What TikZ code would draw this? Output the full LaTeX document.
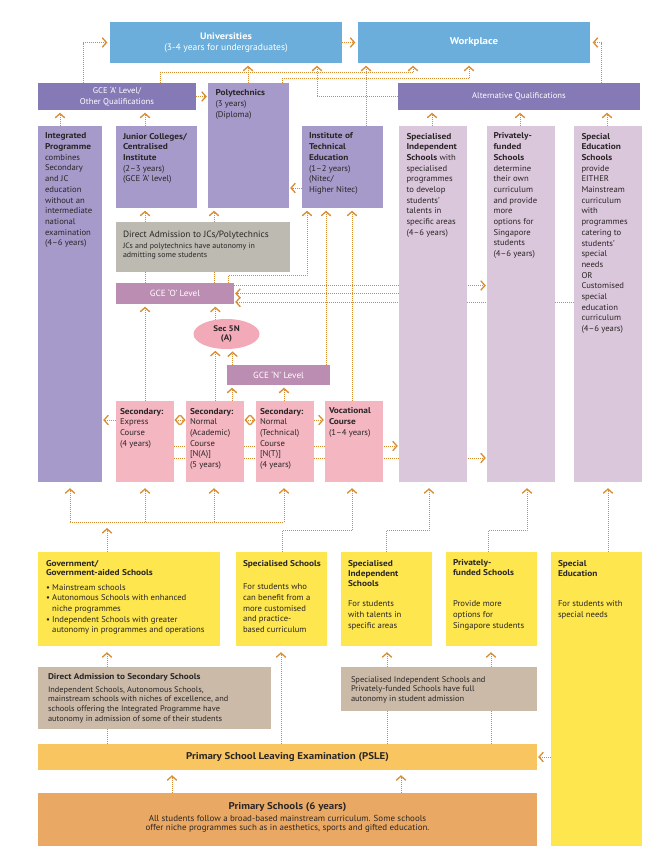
\documentclass[tikz,border=0pt]{standalone}
\usepackage{fontspec}
\setmainfont{PT Sans}[FakeStretch=1.03, BoldFeatures={FakeStretch=1.11}]
\usetikzlibrary{arrows.meta,fit,shapes.geometric}
\definecolor{cblue}{HTML}{6BAEDB}
\definecolor{cdpur}{HTML}{857AB5}
\definecolor{cmpur}{HTML}{A59ACA}
\definecolor{clil}{HTML}{DBC7DB}
\definecolor{cgray}{HTML}{BDBAB1}
\definecolor{cmauve}{HTML}{BC8DB2}
\definecolor{cpink}{HTML}{F4B6C1}
\definecolor{cell}{HTML}{F2AAB8}
\definecolor{cyel}{HTML}{FDE64E}
\definecolor{ctan}{HTML}{CABAA7}
\definecolor{cpsle}{HTML}{F9C560}
\definecolor{cprim}{HTML}{E9A964}
\definecolor{conn}{HTML}{D88D32}
\definecolor{ink}{HTML}{2A2526}
\pgfdeclarelayer{bg}
\pgfsetlayers{bg,main}
\tikzset{
  chev/.tip={Straight Barb[length=4.2pt,width=9.5pt,line width=1.3pt]},
  conn/.style={draw=conn, line width=0.8pt, dash pattern=on 0.8pt off 1.2pt},
  arr/.style={conn, arrows={-chev}, shorten >=2.5pt},
  arrh/.style={conn, arrows={-chev}, shorten >=1pt},
  arrd/.style={conn, arrows={chev-chev}, shorten >=0.3pt, shorten <=0.3pt},
  arrsix/.style={conn, arrows={-chev}, shorten >=6pt},
  arrfive/.style={conn, arrows={-chev}, shorten >=5pt},
  tx/.style={anchor=north west, inner sep=0pt, align=left, text=ink, font=\fontsize{8.4}{10.7}\selectfont},
  ctx/.style={inner sep=0pt, align=center, text=white, font=\fontsize{8.4}{10.4}\selectfont},
}
\newcommand\mkbox[6]{\node[fit={(#3,#4) (#5,#6)}, inner sep=0pt, fill=#2, draw=none] (#1) {};}
\begin{document}
\begin{tikzpicture}[x=1pt,y=-1pt]
\useasboundingbox (0,0) rectangle (668,862);
\begin{pgfonlayer}{bg}
\fill[white] (0,0) rectangle (668,862);
\end{pgfonlayer}
% ---------- boxes ----------
\mkbox{univ}{cblue}{110}{22}{342}{63}
\mkbox{work}{cblue}{358}{22}{590}{63}
\mkbox{gceA}{cdpur}{38}{83}{196}{110}
\mkbox{poly}{cmpur}{208}{83}{289}{208}
\mkbox{alt}{cdpur}{398}{83}{640}{110}
\mkbox{ip}{cmpur}{38}{126}{102}{482}
\mkbox{jc}{cmpur}{116}{126}{197}{208}
\mkbox{ite}{cmpur}{302}{126}{383}{208}
\mkbox{spi}{clil}{399}{126}{467}{482}
\mkbox{pf}{clil}{487}{126}{555}{482}
\mkbox{sped}{clil}{574}{126}{642}{482}
\mkbox{daj}{cgray}{116}{222}{290}{272}
\mkbox{olvl}{cmauve}{116}{283}{234}{304}
\node[ellipse, fill=cell, minimum width=66pt, minimum height=30pt, inner sep=0pt, align=center, text=ink, font=\bfseries\fontsize{8.1}{9}\selectfont] (sec5n) at (226.5,334) {Sec 5N\\(A)};
\mkbox{nlvl}{cmauve}{227}{365}{330}{385}
\mkbox{exp}{cpink}{116}{401}{174}{482}
\mkbox{na}{cpink}{186}{401}{244}{482}
\mkbox{nt}{cpink}{256}{401}{314}{482}
\mkbox{voc}{cpink}{325}{401}{383}{482}
\mkbox{gov}{cyel}{38}{552}{220}{646}
\mkbox{ss}{cyel}{236}{552}{327}{646}
\mkbox{sis}{cyel}{341}{552}{432}{646}
\mkbox{pfs}{cyel}{446}{552}{537}{646}
\mkbox{sed}{cyel}{551}{552}{642}{846}
\mkbox{das}{ctan}{38}{667}{271}{729}
\mkbox{dai}{ctan}{341}{667}{537}{711}
\mkbox{psle}{cpsle}{38}{744}{537}{770}
\mkbox{prim}{cprim}{38}{793}{537}{846}
% ---------- texts ----------
\node[ctx, font=\fontsize{9.3}{11}\selectfont] (univT) at (univ.center) {\textbf{Universities}\\(3-4 years for undergraduates)};
\node[ctx, font=\bfseries\fontsize{9.8}{11}\selectfont] (workT) at (work.center) {Workplace};
\node[ctx] (gceAT) at (gceA.center) {GCE ‘A’ Level/\\Other Qualifications};
\node[ctx] (altT) at (alt.center) {Alternative Qualifications};
\node[tx, font=\fontsize{8.4}{11.2}\selectfont] (polyT) at ([shift={(7.5,6.5)}]poly.north west) {\textbf{Polytechnics}\\(3 years)\\(Diploma)};
\node[tx] (ipT) at ([shift={(7,7)}]ip.north west) {\textbf{Integrated}\\\textbf{Programme}\\combines\\Secondary\\and JC\\education\\without an\\intermediate\\national\\examination\\(4–6 years)};
\node[tx] (jcT) at ([shift={(7,7)}]jc.north west) {\textbf{Junior Colleges/}\\\textbf{Centralised}\\\textbf{Institute}\\(2–3 years)\\(GCE ‘A’ level)};
\node[tx] (iteT) at ([shift={(7,7)}]ite.north west) {\textbf{Institute of}\\\textbf{Technical}\\\textbf{Education}\\(1–2 years)\\(Nitec/\\Higher Nitec)};
\node[tx] (spiT) at ([shift={(7.5,7)}]spi.north west) {\textbf{Specialised}\\\textbf{Independent}\\\textbf{Schools} with\\specialised\\programmes\\to develop\\students’\\talents in\\specific areas\\(4–6 years)};
\node[tx] (pfT) at ([shift={(6.5,7)}]pf.north west) {\textbf{Privately-}\\\textbf{funded}\\\textbf{Schools}\\determine\\their own\\curriculum\\and provide\\more\\options for\\Singapore\\students\\(4–6 years)};
\node[tx] (spedT) at ([shift={(7.5,7)}]sped.north west) {\textbf{Special}\\\textbf{Education}\\\textbf{Schools}\\provide\\EITHER\\Mainstream\\curriculum\\with\\programmes\\catering to\\students’\\special\\needs\\OR\\Customised\\special\\education\\curriculum\\(4–6 years)};
\node[tx, font=\fontsize{9.1}{10}\selectfont] (dajT) at ([shift={(7,9)}]daj.north west) {Direct Admission to JCs/Polytechnics};
\node[tx, font=\fontsize{7.7}{9}\selectfont] (dajS) at ([shift={(7,21.5)}]daj.north west) {JCs and polytechnics have autonomy in\\admitting some students};
\node[ctx, font=\fontsize{8.9}{10}\selectfont] (olvlT) at (olvl.center) {GCE ‘O’ Level};
\node[ctx, font=\fontsize{8.9}{10}\selectfont] (nlvlT) at (nlvl.center) {GCE ‘N’ Level};
\node[tx] (expT) at ([shift={(4,7)}]exp.north west) {\textbf{Secondary:}\\Express\\Course\\(4 years)};
\node[tx] (naT) at ([shift={(4,7)}]na.north west) {\textbf{Secondary:}\\Normal\\(Academic)\\Course\\{[N(A)]}\\(5 years)};
\node[tx] (ntT) at ([shift={(4,7)}]nt.north west) {\textbf{Secondary:}\\Normal\\(Technical)\\Course\\{[N(T)]}\\(4 years)};
\node[tx] (vocT) at ([shift={(4,7)}]voc.north west) {\textbf{Vocational}\\\textbf{Course}\\(1–4 years)};
\node[tx] (govT) at ([shift={(8,8.5)}]gov.north west) {\textbf{Government/}\\[-1.3pt]\textbf{Government-aided Schools}\\[3.5pt]\textbullet\ Mainstream schools\\\textbullet\ Autonomous Schools with enhanced\\\hphantom{\textbullet\ }niche programmes\\\textbullet\ Independent Schools with greater\\\hphantom{\textbullet\ }autonomy in programmes and operations};
\node[tx] (ssT) at ([shift={(7,8)}]ss.north west) {\textbf{Specialised Schools}\\[13pt]For students who\\can benefit from a\\more customised\\and practice-\\based curriculum};
\node[tx] (sisT) at ([shift={(7,8)}]sis.north west) {\textbf{Specialised}\\[-0.7pt]\textbf{Independent}\\[-0.7pt]\textbf{Schools}\\[10pt]For students\\with talents in\\specific areas};
\node[tx] (pfsT) at ([shift={(7,8)}]pfs.north west) {\textbf{Privately-}\\[-0.7pt]\textbf{funded Schools}\\[20pt]Provide more\\options for\\Singapore students};
\node[tx] (sedT) at ([shift={(7,8)}]sed.north west) {\textbf{Special}\\[-0.7pt]\textbf{Education}\\[20pt]For students with\\special needs};
\node[tx, font=\bfseries\fontsize{8.3}{10}\selectfont] (dasT) at ([shift={(10,7)}]das.north west) {Direct Admission to Secondary Schools};
\node[tx, font=\fontsize{8.1}{9.6}\selectfont] (dasS) at ([shift={(10,19.5)}]das.north west) {Independent Schools, Autonomous Schools,\\mainstream schools with niches of excellence, and\\schools offering the Integrated Programme have\\autonomy in admission of some of their students};
\node[tx, font=\fontsize{8.2}{9.6}\selectfont] (daiT) at ([shift={(10,9.5)}]dai.north west) {Specialised Independent Schools and\\Privately-funded Schools have full\\autonomy in student admission};
\node[ctx, text=ink, font=\bfseries\fontsize{9.8}{11}\selectfont] (psleT) at (psle.center) {Primary School Leaving Examination (PSLE)};
\node[ctx, text=ink, font=\bfseries\fontsize{9.8}{11}\selectfont] (primT) at ([shift={(0,14)}]prim.north) {Primary Schools (6 years)};
\node[ctx, text=ink, font=\fontsize{8.7}{9.3}\selectfont] (primS) at ([shift={(0,31)}]prim.north) {All students follow a broad-based mainstream curriculum. Some schools\\offer niche programmes such as in aesthetics, sports and gifted education.};
% ---------- connectors ----------
\begin{pgfonlayer}{bg}
\coordinate (bus) at (0,522);
\draw[arr] (gceA.north -| 83,0) |- (univ.west);
\draw[arr] (univ.east) -- (work.west);
\draw[arr] (alt.north -| 601,0) |- (work.east);
\draw[arr] (gceA.north -| 160,0) -- ++(0,-10) -| (work.south -| 413,0);
\draw[arr] (poly.north -| 282,0) -- ++(0,-4) -| (work.south -| 469,0);
\draw[arr] (poly.north -| 248,0) -- (univ.south -| 248,0);
\draw[arr] (alt.west) -| (univ.south -| 317,0);
\draw[arr] (ite.north -| 366,0) -- (work.south -| 366,0);
\draw[arr] (ip.north -| 60,0) -- (gceA.south -| 60,0);
\draw[arr] (jc.north -| 145,0) -- (gceA.south -| 145,0);
\draw[arrh] (gceA.east) -- (poly.west |- gceA.east);
\draw[arr] (spi.north -| 432,0) -- (alt.south -| 432,0);
\draw[arr] (pf.north -| 520,0) -- (alt.south -| 520,0);
\draw[arr] (sped.north -| 607,0) -- (alt.south -| 607,0);
\draw[conn] (olvl.north -| 145,0) -- (daj.south -| 145,0);
\draw[conn] (olvl.north -| 214,0) -- (daj.south -| 214,0);
\draw[arr] (daj.north -| 145,0) -- (jc.south -| 145,0);
\draw[arr] (daj.north -| 214,0) -- (poly.south -| 214,0);
\draw[arrh] (ite.west |- 0,188) -- (poly.east |- 0,188);
\draw[arr] (olvl.north -| 228,0) -- ++(0,-7) -| (ite.south -| 307,0);
\draw[arr] (nlvl.north -| 326,0) -- (ite.south -| 326,0);
\draw[arr] (voc.north -| 352,0) -- (ite.south -| 352,0);
\draw[arrh] (olvl.east |- 0,285.5) -- (pf.west |- 0,285.5);
\draw[arrh] (spi.west |- 0,293.5) -- (olvl.east |- 0,293.5);
\draw[arrh] (sped.west |- 0,302) -- (olvl.east |- 0,302);
\draw[arr] (exp.north -| 145,0) -- (olvl.south -| 145,0);
\draw[arr] (sec5n.128) -- (olvl.south -| sec5n.128);
\draw[arr] (na.north -| sec5n.232) -- (sec5n.232);
\draw[arr] (nlvl.north -| sec5n.292) -- (sec5n.292);
\draw[arr] (na.north -| 232,0) -- (nlvl.south -| 232,0);
\draw[arr] (nt.north -| 284,0) -- (nlvl.south -| 284,0);
\draw[arrh] (exp.west |- 0,420) -- (ip.east |- 0,420);
\draw[arrd] (exp.east |- 0,420) -- (na.west |- 0,420);
\draw[arrd] (na.east |- 0,420) -- (nt.west |- 0,420);
\draw[arrh] (nt.east |- 0,420) -- (voc.west |- 0,420);
\draw[arrh] (exp.east |- 0,446) -- (spi.west |- 0,446);
\draw[arrh] (exp.east |- 0,458) -- (pf.west |- 0,458);
\draw[arrsix] (gov.north -| 107,0) -- (bus -| 107,0);
\draw[conn] (bus -| 70,0) -- (bus -| 284,0);
\draw[arrsix] (bus -| 70,0) -- (ip.south -| 70,0);
\draw[arrsix] (bus -| 145,0) -- (exp.south -| 145,0);
\draw[arrsix] (bus -| 214,0) -- (na.south -| 214,0);
\draw[arrsix] (bus -| 284,0) -- (nt.south -| 284,0);
\draw[arrsix] (ss.north -| 282,0) -- ++(0,-21) -| (voc.south -| 352,0);
\draw[arrsix] (sis.north -| 386,0) -- ++(0,-21) -| (spi.south -| 429,0);
\draw[arrsix] (pfs.north -| 488,0) -- ++(0,-21) -| (pf.south -| 527,0);
\draw[arrsix] (sed.north -| 608,0) -- (sped.south -| 608,0);
\draw[arrsix] (das.north -| 107,0) -- (gov.south -| 107,0);
\draw[conn] (psle.north -| 107,0) -- (das.south -| 107,0);
\draw[arrsix] (psle.north -| 281,0) -- (ss.south -| 281,0);
\draw[conn] (psle.north -| 387,0) -- (dai.south -| 387,0);
\draw[conn] (psle.north -| 491,0) -- (dai.south -| 491,0);
\draw[arrsix] (dai.north -| 387,0) -- (sis.south -| 387,0);
\draw[arrsix] (dai.north -| 491,0) -- (pfs.south -| 491,0);
\draw[arrh] (sed.west |- psle.east) -- (psle.east);
\draw[arrfive] (prim.north -| 172,0) -- (psle.south -| 172,0);
\draw[arrfive] (prim.north -| 401,0) -- (psle.south -| 401,0);
\end{pgfonlayer}
\end{tikzpicture}
\end{document}
